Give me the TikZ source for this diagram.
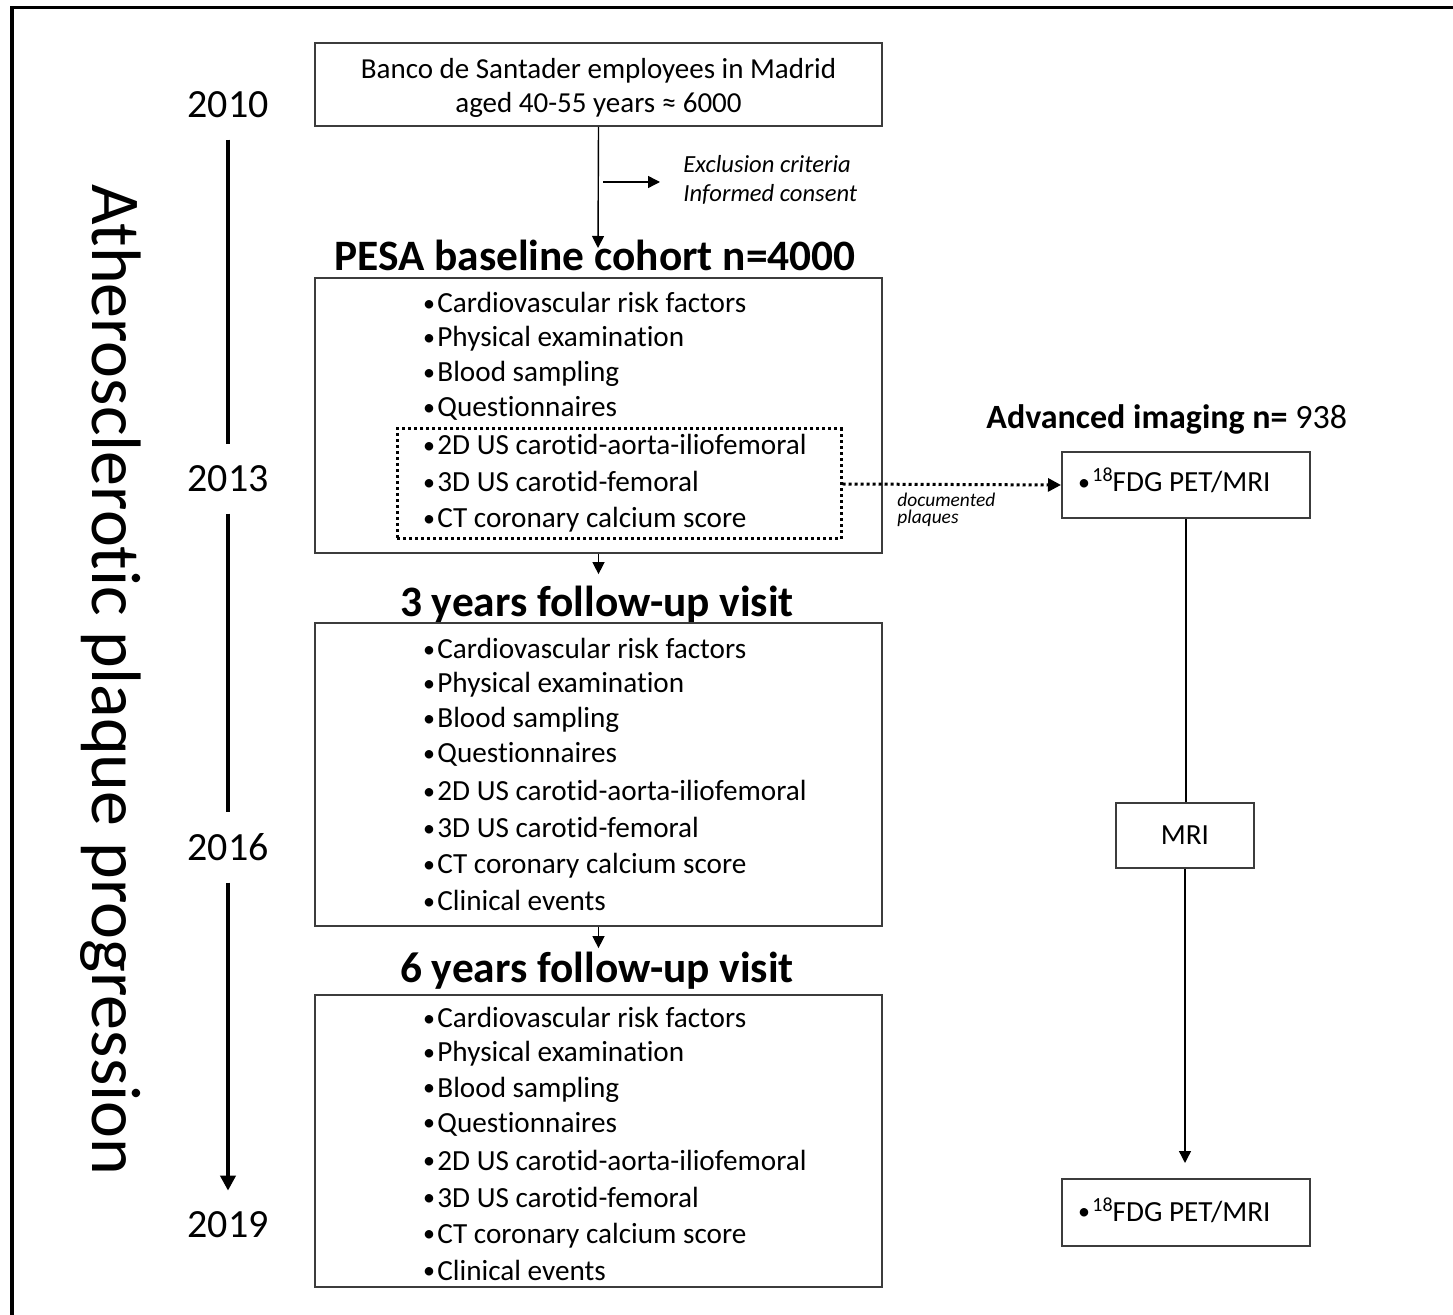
\documentclass[tikz,border=0pt]{standalone}
\usepackage{fontspec}
\setmainfont{Carlito}[Ligatures=NoCommon]
\usetikzlibrary{arrows.meta,positioning,fit}
\definecolor{pesaBox}{RGB}{60,60,60}
\newcommand{\pbul}{\makebox[8pt][l]{\hspace{0.8pt}\raisebox{0.8pt}{\fontsize{12}{12}\selectfont\textbullet}}}

\begin{document}
\begin{tikzpicture}[x=0.5pt, y=-0.5pt,
  panel/.style={draw=pesaBox, line width=1pt, inner sep=0pt},
  item/.style={anchor=base west, inner sep=0pt, font=\fontsize{14.6}{16}\selectfont},
  head/.style={anchor=base, inner sep=0pt, font=\bfseries\fontsize{21.7}{24}\selectfont},
  yearlbl/.style={anchor=base, inner sep=0pt, font=\fontsize{20}{22}\selectfont},
  note/.style={anchor=base west, inner sep=0pt, font=\itshape\fontsize{12.3}{14}\selectfont},
  flow/.style={line width=0.7pt, -{Triangle[length=6pt, width=6pt]}},
  dotline/.style={line width=1.5pt, dash pattern=on 1.5pt off 1.5pt},
  tline/.style={line width=2pt, shorten <=10.5pt, shorten >=11pt}]
\useasboundingbox (0,0) rectangle (1453,1315);
% frame (cut at right and bottom)
\draw[line width=1.8pt] (12,1315) -- (12,7.5) -- (1453,7.5);

% time axis
\node[rotate=-90, anchor=base, inner sep=0pt, font=\fontsize{35}{36}\selectfont] (title) at (92,680) {Atherosclerotic plaque progression};
\foreach \yr/\yb in {2010/118, 2013/492, 2016/861, 2019/1237}
  \node[yearlbl] (y\yr) at (228,\yb) {\yr};
\draw[tline] (y2010) -- (y2013);
\draw[tline] (y2013) -- (y2016);
\draw[tline, shorten >=10pt, -{Triangle[length=7.5pt, width=7.5pt]}] (y2016) -- (y2019);

% recruitment
\node[panel, fit={(315,43) (882,126)}] (src) {};
\node[align=center, inner sep=0pt, font=\fontsize{14.5}{17}\selectfont] (srcTxt) at ([yshift=-1.5pt]src.center) {Banco de Santader employees in Madrid\\aged 40-55 years ≈ 6000};
\coordinate (exFrom) at (603,182);
\coordinate (exTo) at (660,182);
\draw[flow] (exFrom) -- (exTo);
\node[note] (excl1) at (683,173) {Exclusion criteria};
\node[note] (excl2) at (683,202) {Informed consent};

% visits
\node[head] (hBase) at (595,271) {PESA baseline cohort n=4000};
\node[head] (hFu3) at (597,617) {3 years follow-up visit};
\node[head] (hFu6) at (597,983) {6 years follow-up visit};
\node[panel, fit={(315,278) (882,553)}] (base) {};
\node[panel, fit={(315,623) (882,926)}] (fu3) {};
\node[panel, fit={(315,995) (882,1287)}] (fu6) {};
\coordinate (tipBase) at (598,248);
\draw[flow] (src.south) -- (tipBase);
\draw[flow, shorten >=6pt] (base.south) -- (base.south |- hFu3.north);
\draw[flow, shorten >=2pt] (fu3.south) -- (fu3.south |- hFu6.north);

\foreach \bx/\yb/\nn in {base/313/7, fu3/659/8, fu6/1028/8}
  \foreach \t/\dy [count=\i] in {Cardiovascular risk factors/0, Physical examination/34,
      Blood sampling/69, Questionnaires/104, 2D US carotid-aorta-iliofemoral/142,
      3D US carotid-femoral/179, CT coronary calcium score/215, Clinical events/252}
  {
    \ifnum\i>\nn\relax\else
      \node[item] (\bx\i) at (421,\yb+\dy) {\pbul\t};
    \fi
  }

\node[dotline, draw, inner sep=0pt, fit={(397,429) (841,539)}] (plaqueBox) {};

% advanced imaging
\node[anchor=base west, inner sep=0pt, font=\fontsize{17}{20}\selectfont] (hAdv) at (986,429) {\textbf{Advanced imaging n=} 938};
\node[panel, fit={(1062,452) (1310,518)}] (pet1) {};
\node[item] (pet1Txt) at (1076,492) {\pbul{\fontsize{10}{10}\selectfont\raisebox{5pt}{18}}FDG PET/MRI};
\node[panel, fit={(1116,803) (1254,868)}] (mri) {};
\node[item, anchor=base] (mriTxt) at (1185,845) {MRI};
\node[panel, fit={(1062,1179) (1310,1246)}] (pet2) {};
\node[item] (pet2Txt) at (1076,1221) {\pbul{\fontsize{10}{10}\selectfont\raisebox{5pt}{18}}FDG PET/MRI};

\draw[dotline, -{Triangle[length=6.5pt, width=6.5pt]}] (plaqueBox.east) -- (pet1.west);
\node[note, font=\itshape\fontsize{9.7}{11}\selectfont] (docLbl1) at (897,507) {documented};
\node[note, font=\itshape\fontsize{9.7}{11}\selectfont] (docLbl2) at (897,524) {plaques};
\draw[line width=0.7pt] (pet1.south) -- (pet1.south |- mri.north);
\draw[flow, shorten >=7.5pt] (mri.south) -- (mri.south |- pet2.north);
\end{tikzpicture}
\end{document}
